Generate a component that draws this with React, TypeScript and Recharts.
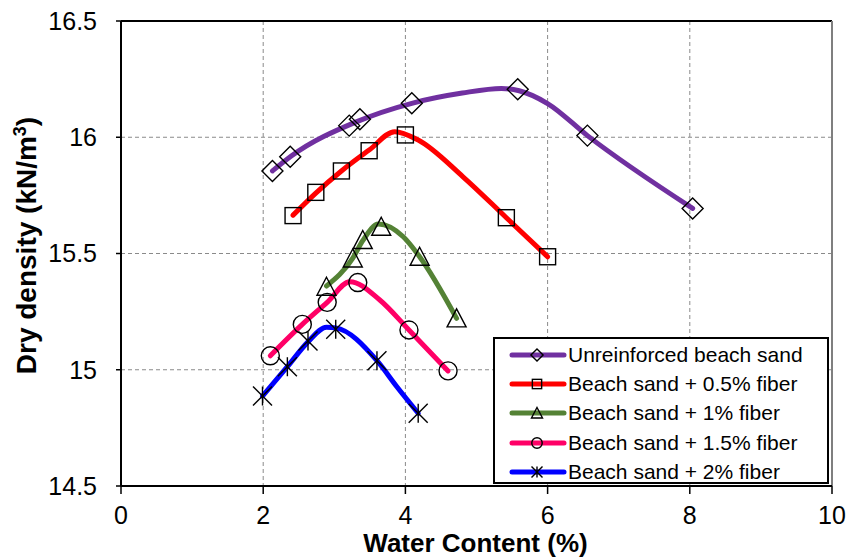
import React from "react";
import {
  CartesianGrid,
  ComposedChart,
  Label,
  Legend,
  Line,
  ReferenceLine,
  Scatter,
  XAxis,
  YAxis,
} from "recharts";

// measured points (water content %, dry density kN/m3)
const unreinforcedW = [2.13, 2.38, 3.21, 3.36, 4.09, 5.58, 6.56, 8.04];
const unreinforcedD = [15.855, 15.916, 16.05, 16.077, 16.146, 16.206, 16.007, 15.694];
const fiber05W = [2.42, 2.74, 3.1, 3.49, 4.0, 5.42, 6.0];
const fiber05D = [15.663, 15.763, 15.855, 15.942, 16.01, 15.654, 15.486];
const fiber1W = [2.89, 3.26, 3.4, 3.66, 4.2, 4.72];
const fiber1D = [15.357, 15.479, 15.558, 15.615, 15.486, 15.221];
const fiber15W = [2.1, 2.55, 2.9, 3.33, 4.05, 4.6];
const fiber15D = [15.06, 15.195, 15.29, 15.375, 15.171, 14.995];
const fiber2W = [1.99, 2.34, 2.63, 3.02, 3.6, 4.18];
const fiber2D = [14.887, 15.013, 15.124, 15.174, 15.039, 14.813];

// fitted curves
const unreinforcedFitW = [2.13, 2.4, 3.3, 4.09, 4.8, 5.35, 5.6, 6.0, 6.56, 8.04];
const unreinforcedFitD = [15.855, 15.92, 16.065, 16.146, 16.19, 16.21, 16.2, 16.145, 16.007, 15.694];
const fiber05FitW = [2.42, 2.74, 3.1, 3.49, 3.85, 4.18, 4.81, 5.42, 6.0];
const fiber05FitD = [15.665, 15.76, 15.855, 15.945, 16.024, 15.988, 15.83, 15.654, 15.486];
const fiber1FitW = [2.89, 3.26, 3.4, 3.62, 3.97, 4.2, 4.72];
const fiber1FitD = [15.36, 15.48, 15.555, 15.627, 15.572, 15.486, 15.221];
const fiber15FitW = [2.1, 2.55, 2.9, 3.22, 3.64, 4.05, 4.6];
const fiber15FitD = [15.06, 15.195, 15.29, 15.379, 15.3, 15.171, 14.995];
const fiber2FitW = [1.99, 2.34, 2.63, 2.89, 3.02, 3.6, 3.88, 4.18];
const fiber2FitD = [14.887, 15.013, 15.12, 15.183, 15.18, 15.039, 14.927, 14.813];

const xTicks = [0, 2, 4, 6, 8, 10];
const yTicks = [14.5, 15, 15.5, 16, 16.5];

const zip = (w: number[], d: number[]) => w.map((x, i) => ({ x, y: d[i] }));

type Kind = "diamond" | "square" | "triangle" | "circle" | "star";

const series = [
  { name: "Unreinforced beach sand", color: "#7030A0", kind: "diamond" as Kind, pts: zip(unreinforcedW, unreinforcedD), fit: zip(unreinforcedFitW, unreinforcedFitD) },
  { name: "Beach sand + 0.5% fiber", color: "#FF0000", kind: "square" as Kind, pts: zip(fiber05W, fiber05D), fit: zip(fiber05FitW, fiber05FitD) },
  { name: "Beach sand + 1% fiber", color: "#548235", kind: "triangle" as Kind, pts: zip(fiber1W, fiber1D), fit: zip(fiber1FitW, fiber1FitD) },
  { name: "Beach sand + 1.5% fiber", color: "#FF0066", kind: "circle" as Kind, pts: zip(fiber15W, fiber15D), fit: zip(fiber15FitW, fiber15FitD) },
  { name: "Beach sand + 2% fiber", color: "#0000FF", kind: "star" as Kind, pts: zip(fiber2W, fiber2D), fit: zip(fiber2FitW, fiber2FitD) },
];

const FONT = "'Liberation Sans', Arial, sans-serif";

function Marker({ cx, cy, kind, s = 1 }: { cx: number; cy: number; kind: Kind; s?: number }) {
  const st = { stroke: "#000", strokeWidth: 1.4, fill: "none" };
  if (kind === "diamond") {
    const r = 10.5 * s;
    return <polygon points={`${cx},${cy - r} ${cx + r},${cy} ${cx},${cy + r} ${cx - r},${cy}`} {...st} />;
  }
  if (kind === "square") {
    const r = 8 * s;
    return <rect x={cx - r} y={cy - r} width={2 * r} height={2 * r} {...st} />;
  }
  if (kind === "triangle") {
    const r = 9.5 * s;
    return <polygon points={`${cx},${cy - r} ${cx + r},${cy + r * 0.9} ${cx - r},${cy + r * 0.9}`} {...st} />;
  }
  if (kind === "circle") {
    return <circle cx={cx} cy={cy} r={9 * s} {...st} />;
  }
  const r = 9.5 * s;
  return (
    <g {...st}>
      <line x1={cx - r} y1={cy - r} x2={cx + r} y2={cy + r} />
      <line x1={cx - r} y1={cy + r} x2={cx + r} y2={cy - r} />
      <line x1={cx} y1={cy - r} x2={cx} y2={cy + r} />
    </g>
  );
}

function LegendBox() {
  return (
    <div
      style={{
        width: 336,
        height: 147,
        boxSizing: "border-box",
        border: "2px solid #000",
        background: "#fff",
        fontFamily: FONT,
        fontSize: 21,
        color: "#000",
        paddingTop: 1,
      }}
    >
      {series.map((s) => (
        <div key={s.name} style={{ display: "flex", alignItems: "center", height: 29.3 }}>
          <svg width={74} height={24} style={{ flex: "none", marginLeft: -2 }}>
            <line x1={19} y1={12} x2={71} y2={12} stroke={s.color} strokeWidth={5} strokeLinecap="round" />
            <Marker cx={44} cy={12} kind={s.kind} s={0.58} />
          </svg>
          <span style={{ marginLeft: 1, whiteSpace: "nowrap" }}>{s.name}</span>
        </div>
      ))}
    </div>
  );
}

export default function App() {
  return (
    <div style={{ position: "absolute", left: 0, top: 0, width: 848, height: 558, background: "#fff" }}>
      <ComposedChart width={848} height={558} margin={{ top: 21, right: 16, bottom: 22, left: 21 }}>
        <CartesianGrid stroke="#8a8a8a" strokeDasharray="4 3" strokeWidth={1} />
        <XAxis
          type="number"
          dataKey="x"
          domain={[0, 10]}
          ticks={xTicks}
          allowDataOverflow
          height={50}
          tickSize={8}
          tickMargin={12}
          axisLine={{ stroke: "#000", strokeWidth: 2 }}
          tickLine={{ stroke: "#000", strokeWidth: 1.5 }}
          tick={{ fill: "#000", fontSize: 25, fontFamily: FONT }}
        >
          <Label
            content={({ viewBox }: any) => (
              <text
                x={viewBox.x + viewBox.width / 2 - 1}
                y={552}
                textAnchor="middle"
                fontFamily={FONT}
                fontWeight="bold"
                fontSize={26}
                fill="#000"
              >
                Water Content (%)
              </text>
            )}
          />
        </XAxis>
        <YAxis
          type="number"
          dataKey="y"
          domain={[14.5, 16.5]}
          ticks={yTicks}
          allowDataOverflow
          width={100}
          tickSize={5}
          tickMargin={19}
          axisLine={{ stroke: "#000", strokeWidth: 2 }}
          tickLine={{ stroke: "#000", strokeWidth: 1.5 }}
          tick={{ fill: "#000", fontSize: 25, fontFamily: FONT }}
        >
          <Label
            content={({ viewBox }: any) => {
              const cx = 36;
              const cy = viewBox.y + viewBox.height / 2 - 8;
              return (
                <text
                  transform={`translate(${cx},${cy}) rotate(-90)`}
                  textAnchor="middle"
                  fontFamily={FONT}
                  fontWeight="bold"
                  fontSize={28}
                  fill="#000"
                >
                  Dry density (kN/m
                  <tspan dy={-10} fontSize={18}>3</tspan>
                  <tspan dy={10}>)</tspan>
                </text>
              );
            }}
          />
        </YAxis>
        <ReferenceLine y={16.5} stroke="#000" strokeWidth={2} />
        <ReferenceLine x={10} stroke="#7f7f7f" strokeWidth={2} />
        {series.map((s) => (
          <Line
            key={s.name + "-fit"}
            data={s.fit}
            dataKey="y"
            type="monotone"
            stroke={s.color}
            strokeWidth={5}
            strokeLinecap="round"
            dot={false}
            activeDot={false}
            legendType="none"
            isAnimationActive={false}
          />
        ))}
        {series.map((s) => (
          <Scatter
            key={s.name}
            name={s.name}
            data={s.pts}
            dataKey="y"
            fill={s.color}
            shape={(p: any) => <Marker cx={p.cx} cy={p.cy} kind={s.kind} />}
            isAnimationActive={false}
          />
        ))}
        <Legend
          layout="vertical"
          align="center"
          verticalAlign="middle"
          content={() => <LegendBox />}
          wrapperStyle={{ left: 493, top: 337, width: 336, height: 147 }}
        />
      </ComposedChart>
    </div>
  );
}
